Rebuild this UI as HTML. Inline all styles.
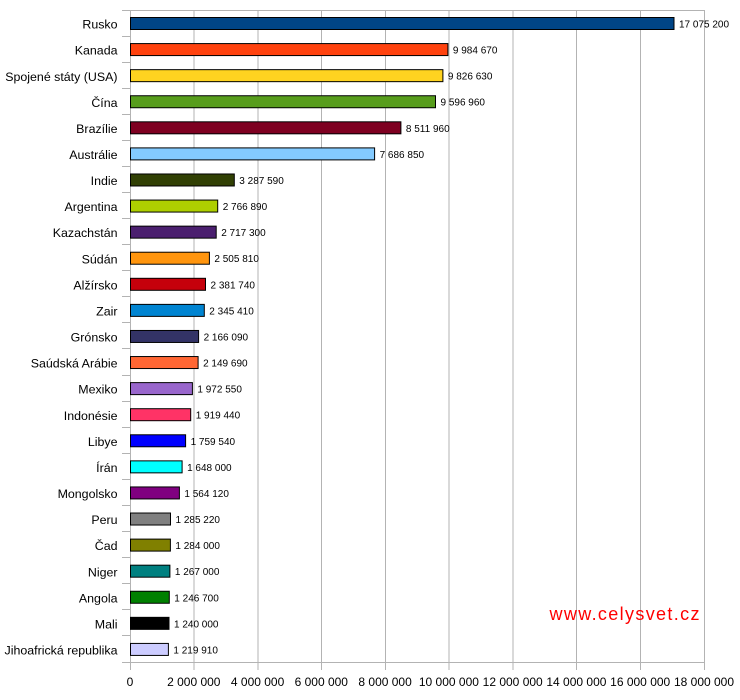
<!DOCTYPE html>
<html><head><meta charset="utf-8"><style>
html,body{margin:0;padding:0;background:#fff;width:740px;height:700px;overflow:hidden}
svg{display:block}
text{font-family:"Liberation Sans",Arial,sans-serif;fill:#000}
.c{font-size:12.4px;text-anchor:end}
.v{font-size:10px}
.a{font-size:12px;text-anchor:middle}
</style></head><body>
<svg width="740" height="700" viewBox="0 0 740 700" xmlns="http://www.w3.org/2000/svg">
<g stroke="#b3b3b3" stroke-width="1" shape-rendering="crispEdges">
<line x1="130.5" y1="10" x2="130.5" y2="670"/>
<line x1="194" y1="10" x2="194" y2="670"/>
<line x1="258" y1="10" x2="258" y2="670"/>
<line x1="321.5" y1="10" x2="321.5" y2="670"/>
<line x1="385.5" y1="10" x2="385.5" y2="670"/>
<line x1="449" y1="10" x2="449" y2="670"/>
<line x1="513" y1="10" x2="513" y2="670"/>
<line x1="576.5" y1="10" x2="576.5" y2="670"/>
<line x1="640.5" y1="10" x2="640.5" y2="670"/>
<line x1="704.5" y1="10" x2="704.5" y2="670"/>
<line x1="122" y1="10.5" x2="704.5" y2="10.5"/>
<line x1="122" y1="662.5" x2="704.5" y2="662.5"/>
<line x1="122" y1="36.5" x2="130" y2="36.5"/>
<line x1="122" y1="62.5" x2="130" y2="62.5"/>
<line x1="122" y1="88.5" x2="130" y2="88.5"/>
<line x1="122" y1="114.5" x2="130" y2="114.5"/>
<line x1="122" y1="140.5" x2="130" y2="140.5"/>
<line x1="122" y1="166.5" x2="130" y2="166.5"/>
<line x1="122" y1="192.5" x2="130" y2="192.5"/>
<line x1="122" y1="218.5" x2="130" y2="218.5"/>
<line x1="122" y1="244.5" x2="130" y2="244.5"/>
<line x1="122" y1="270.5" x2="130" y2="270.5"/>
<line x1="122" y1="296.5" x2="130" y2="296.5"/>
<line x1="122" y1="322.5" x2="130" y2="322.5"/>
<line x1="122" y1="348.5" x2="130" y2="348.5"/>
<line x1="122" y1="375.5" x2="130" y2="375.5"/>
<line x1="122" y1="401.5" x2="130" y2="401.5"/>
<line x1="122" y1="427.5" x2="130" y2="427.5"/>
<line x1="122" y1="453.5" x2="130" y2="453.5"/>
<line x1="122" y1="479.5" x2="130" y2="479.5"/>
<line x1="122" y1="505.5" x2="130" y2="505.5"/>
<line x1="122" y1="531.5" x2="130" y2="531.5"/>
<line x1="122" y1="557.5" x2="130" y2="557.5"/>
<line x1="122" y1="583.5" x2="130" y2="583.5"/>
<line x1="122" y1="609.5" x2="130" y2="609.5"/>
<line x1="122" y1="635.5" x2="130" y2="635.5"/>
</g>

<g stroke="#000" stroke-width="1">
<rect x="130.5" y="17.5" width="543.5" height="12" fill="#004586"/>
<rect x="130.5" y="43.58" width="317.4" height="12" fill="#ff420e"/>
<rect x="130.5" y="69.66" width="312.4" height="12" fill="#ffd320"/>
<rect x="130.5" y="95.74" width="305.0" height="12" fill="#579d1c"/>
<rect x="130.5" y="121.82" width="270.4" height="12" fill="#7e0021"/>
<rect x="130.5" y="147.9" width="244.1" height="12" fill="#83caff"/>
<rect x="130.5" y="173.98" width="103.8" height="12" fill="#314004"/>
<rect x="130.5" y="200.06" width="87.2" height="12" fill="#aecf00"/>
<rect x="130.5" y="226.14" width="85.7" height="12" fill="#4b1f6f"/>
<rect x="130.5" y="252.22" width="78.9" height="12" fill="#ff950e"/>
<rect x="130.5" y="278.3" width="75.0" height="12" fill="#c5000b"/>
<rect x="130.5" y="304.38" width="73.8" height="12" fill="#0084d1"/>
<rect x="130.5" y="330.46" width="68.1" height="12" fill="#333366"/>
<rect x="130.5" y="356.54" width="67.6" height="12" fill="#ff6633"/>
<rect x="130.5" y="382.62" width="61.9" height="12" fill="#9966cc"/>
<rect x="130.5" y="408.7" width="60.2" height="12" fill="#ff3366"/>
<rect x="130.5" y="434.78" width="55.1" height="12" fill="#0000ff"/>
<rect x="130.5" y="460.86" width="51.6" height="12" fill="#00ffff"/>
<rect x="130.5" y="486.94" width="48.9" height="12" fill="#800080"/>
<rect x="130.5" y="513.02" width="40.0" height="12" fill="#808080"/>
<rect x="130.5" y="539.1" width="39.9" height="12" fill="#808000"/>
<rect x="130.5" y="565.18" width="39.4" height="12" fill="#008080"/>
<rect x="130.5" y="591.26" width="38.8" height="12" fill="#008000"/>
<rect x="130.5" y="617.34" width="38.5" height="12" fill="#000000"/>
<rect x="130.5" y="643.42" width="37.9" height="12" fill="#ccccff"/>
</g>

<g class="c">
<text class="c" x="117.5" y="28.6">Rusko</text>
<text class="c" x="117.5" y="54.68">Kanada</text>
<text class="c" x="117.5" y="80.76">Spojené státy (USA)</text>
<text class="c" x="117.5" y="106.84">Čína</text>
<text class="c" x="117.5" y="132.92">Brazílie</text>
<text class="c" x="117.5" y="159.0">Austrálie</text>
<text class="c" x="117.5" y="185.08">Indie</text>
<text class="c" x="117.5" y="211.16">Argentina</text>
<text class="c" x="117.5" y="237.24">Kazachstán</text>
<text class="c" x="117.5" y="263.32">Súdán</text>
<text class="c" x="117.5" y="289.4">Alžírsko</text>
<text class="c" x="117.5" y="315.48">Zair</text>
<text class="c" x="117.5" y="341.56">Grónsko</text>
<text class="c" x="117.5" y="367.64">Saúdská Arábie</text>
<text class="c" x="117.5" y="393.72">Mexiko</text>
<text class="c" x="117.5" y="419.8">Indonésie</text>
<text class="c" x="117.5" y="445.88">Libye</text>
<text class="c" x="117.5" y="471.96">Írán</text>
<text class="c" x="117.5" y="498.04">Mongolsko</text>
<text class="c" x="117.5" y="524.12">Peru</text>
<text class="c" x="117.5" y="550.2">Čad</text>
<text class="c" x="117.5" y="576.28">Niger</text>
<text class="c" x="117.5" y="602.36">Angola</text>
<text class="c" x="117.5" y="628.44">Mali</text>
<text class="c" x="117.5" y="654.52">Jihoafrická republika</text>
</g>

<g>
<text class="v" x="679.0" y="27.5">17 075 200</text>
<text class="v" x="452.9" y="53.58">9 984 670</text>
<text class="v" x="447.9" y="79.66">9 826 630</text>
<text class="v" x="440.5" y="105.74">9 596 960</text>
<text class="v" x="405.9" y="131.82">8 511 960</text>
<text class="v" x="379.6" y="157.9">7 686 850</text>
<text class="v" x="239.3" y="183.98">3 287 590</text>
<text class="v" x="222.7" y="210.06">2 766 890</text>
<text class="v" x="221.2" y="236.14">2 717 300</text>
<text class="v" x="214.4" y="262.22">2 505 810</text>
<text class="v" x="210.5" y="288.3">2 381 740</text>
<text class="v" x="209.3" y="314.38">2 345 410</text>
<text class="v" x="203.6" y="340.46">2 166 090</text>
<text class="v" x="203.1" y="366.54">2 149 690</text>
<text class="v" x="197.4" y="392.62">1 972 550</text>
<text class="v" x="195.7" y="418.7">1 919 440</text>
<text class="v" x="190.6" y="444.78">1 759 540</text>
<text class="v" x="187.1" y="470.86">1 648 000</text>
<text class="v" x="184.4" y="496.94">1 564 120</text>
<text class="v" x="175.5" y="523.02">1 285 220</text>
<text class="v" x="175.4" y="549.1">1 284 000</text>
<text class="v" x="174.9" y="575.18">1 267 000</text>
<text class="v" x="174.3" y="601.26">1 246 700</text>
<text class="v" x="174.0" y="627.34">1 240 000</text>
<text class="v" x="173.4" y="653.42">1 219 910</text>
</g>

<g>
<text class="a" x="130" y="686">0</text>
<text class="a" x="193.8" y="686">2 000 000</text>
<text class="a" x="257.6" y="686">4 000 000</text>
<text class="a" x="321.3" y="686">6 000 000</text>
<text class="a" x="385.1" y="686">8 000 000</text>
<text class="a" x="448.9" y="686">10 000 000</text>
<text class="a" x="512.7" y="686">12 000 000</text>
<text class="a" x="576.4" y="686">14 000 000</text>
<text class="a" x="640.2" y="686">16 000 000</text>
<text class="a" x="704" y="686">18 000 000</text>
</g>

<text x="549.5" y="620" style="font-size:18px;fill:#ff0000" textLength="150" lengthAdjust="spacing">www.celysvet.cz</text>
</svg>
</body></html>
